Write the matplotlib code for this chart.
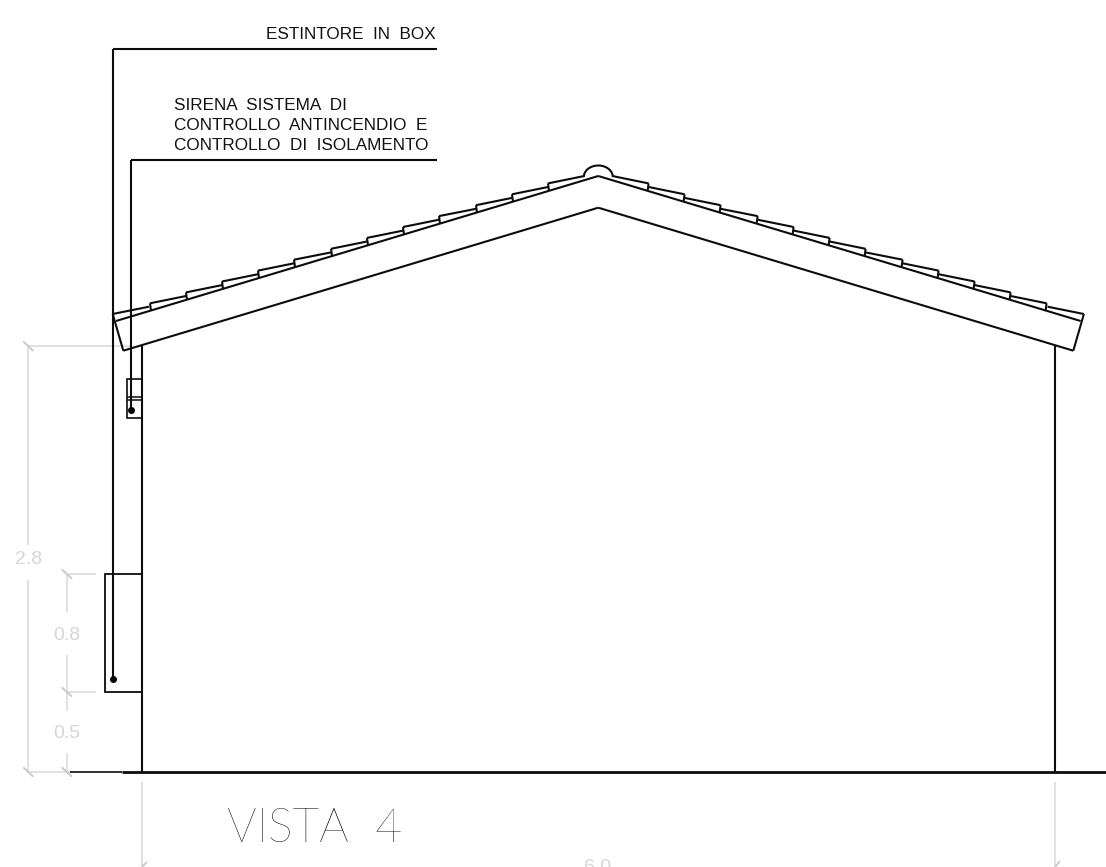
import matplotlib
matplotlib.use('Agg')
import matplotlib.pyplot as plt
from matplotlib.patches import Arc, Rectangle

DARK = '#0c0c0c'
GRAY = '#dcdcdc'
GRAY_TEXT = '#d6d6d6'

ridge_x = 598.3
ridge_top_y = 176
ridge_under_y = 207.7

# roof, left slope (right slope is the same shape mirrored on the ridge)
eave_corner = (112.7, 314)
eave_upper = (116, 321)
eave_lower = (123.3, 350.7)

tile_x = [150, 186, 222, 258, 294, 331, 367, 403, 439, 476, 512, 548]
tile_y = [303.3, 292.4, 281.5, 270.6, 259.7, 248.8, 237.9, 227.0, 216.1, 205.2, 194.3, 183.4]
tile_end_x = [186, 222, 258, 294, 331, 367, 403, 439, 476, 512, 548, 584.3]
tile_end_y = [296.0, 285.1, 274.2, 263.3, 252.4, 241.5, 230.6, 219.7, 208.8, 197.9, 187.0, 176.0]
tile_foot_y = [310.7, 299.8, 288.9, 278.0, 267.1, 256.2, 245.3, 234.4, 223.5, 212.6, 201.7, 190.8]

# walls and ground
wall_left_x = 141.8
wall_right_x = 1055.2
wall_left_top = 345
wall_right_top = 345
ground_y = 771.8

# leaders
leader_1_x = 112.5
leader_1_y = 48.5
leader_1_end = 679
leader_2_x = 130.8
leader_2_y = 160
leader_2_end = 410
leader_right = 437

# boxes: x, y, width, height
box_extinguisher = (104.5, 574, 37.3, 118)
box_siren = (126.7, 379, 15, 38.7)
siren_divider_y = [397, 399.5]

# grey dimension lines: x0, y0, x1, y1
dim_lines = [
    (28, 346, 28, 545), (28, 580, 28, 772),
    (28, 346, 131, 346), (28, 772, 72, 772),
    (67, 574, 67, 612), (67, 655, 67, 711), (67, 753, 67, 772),
    (67, 574, 96, 574), (67, 692, 96, 692),
    (142, 782, 142, 867), (1055, 782, 1055, 867),
]
dim_ticks = [
    (23.3, 341.5, 33.3, 351), (23.3, 767.3, 33.3, 776.7),
    (61.7, 569.3, 72, 578.7), (61.7, 687.3, 72, 696.7), (61.7, 767.3, 72, 776.7),
    (141.7, 867, 147, 862), (1055, 867, 1060, 861),
]
dim_labels = ['2.8', '0.8', '0.5', '6.0']
dim_label_x = [28.3, 67, 67, 598]
dim_label_y = [560, 635, 733, 868]

fig = plt.figure(figsize=(11.06, 8.67), dpi=100)
ax = fig.add_axes([0, 0, 1, 1])
ax.set_xlim(0, 1106)
ax.set_ylim(867, 0)
ax.axis('off')


def seg(x0, y0, x1, y1, color=DARK, lw=1.5):
    ax.plot([x0, x1], [y0, y1], color=color, lw=lw, solid_capstyle='butt')


def mirror(x):
    return 2 * ridge_x - x


# grey stuff first so the black lines sit on top
for d in dim_lines:
    seg(*d, color=GRAY, lw=1.2)
for t in dim_ticks:
    seg(*t, color='#cacaca', lw=1.4)
for label, x, y in zip(dim_labels, dim_label_x, dim_label_y):
    ax.text(x, y, label, ha='center', va='center', fontsize=14, color=GRAY_TEXT,
            family='Liberation Sans')

# walls
seg(wall_left_x, wall_left_top, wall_left_x, ground_y)
seg(wall_right_x, wall_right_top, wall_right_x, ground_y)

# ground
seg(70, ground_y, 122, ground_y, lw=1.2)
seg(122, ground_y, 1106, ground_y, lw=2.0)

# roof slab
for flip in [False, True]:
    fx = mirror if flip else (lambda v: v)
    seg(fx(eave_corner[0]), eave_corner[1], fx(eave_lower[0]), eave_lower[1])
    seg(fx(eave_upper[0]), eave_upper[1], fx(ridge_x), ridge_top_y)
    seg(fx(eave_lower[0]), eave_lower[1], fx(ridge_x), ridge_under_y)
    # first tile starts on the eave corner
    seg(fx(eave_corner[0]), eave_corner[1], fx(149), 306.7)
    for i in range(len(tile_x)):
        seg(fx(tile_x[i]), tile_y[i], fx(tile_end_x[i]), tile_end_y[i])
        seg(fx(tile_x[i]), tile_y[i], fx(tile_x[i] + 1), tile_foot_y[i])

# ridge cap
ax.add_patch(Arc((ridge_x, 177), 29, 23, theta1=180, theta2=360, color=DARK, lw=1.5))

# boxes
ax.add_patch(Rectangle(box_extinguisher[:2], box_extinguisher[2], box_extinguisher[3],
                       fill=False, edgecolor=DARK, lw=1.3))
ax.add_patch(Rectangle(box_siren[:2], box_siren[2], box_siren[3],
                       fill=False, edgecolor=DARK, lw=1.2))
for y in siren_divider_y:
    seg(box_siren[0], y, box_siren[0] + box_siren[2], y, lw=1.1)

# leaders
seg(leader_1_x, leader_1_y, leader_right, leader_1_y)
seg(leader_1_x, leader_1_y, leader_1_x, leader_1_end)
seg(leader_2_x, leader_2_y, leader_right, leader_2_y)
seg(leader_2_x, leader_2_y, leader_2_x, leader_2_end)
ax.plot([leader_1_x, leader_2_x], [leader_1_end, leader_2_end], 'o', color='black', ms=4)

# notes
note_font = dict(ha='left', va='center', fontsize=12.3, family='Liberation Sans', color='#111111')
ax.text(436, 34.5, 'ESTINTORE  IN  BOX', **{**note_font, 'ha': 'right'})
ax.text(174, 105.5, 'SIRENA  SISTEMA  DI', **note_font)
ax.text(174, 125.5, 'CONTROLLO  ANTINCENDIO  E', **note_font)
ax.text(174, 145.5, 'CONTROLLO  DI  ISOLAMENTO', **note_font)
ax.text(227, 829, 'VISTA  4', ha='left', va='center', fontsize=33.5,
        family=['Lato', 'Liberation Sans'], fontweight='light', color='#000000')

fig.savefig('out.png', dpi=100)
